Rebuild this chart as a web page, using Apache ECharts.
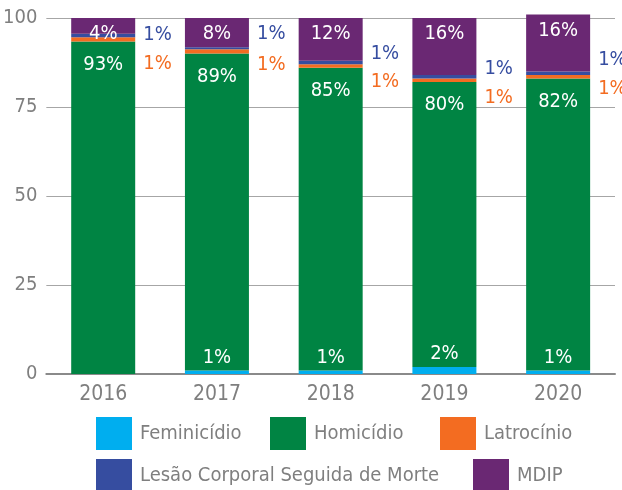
<!DOCTYPE html>
<html>
<head>
<meta charset="utf-8">
<script src="https://cdn.jsdelivr.net/npm/echarts@6/dist/echarts.min.js"></script>
<style>
  html, body { margin: 0; padding: 0; background: #fff; }
  #chart { width: 622px; height: 490px; }
</style>
</head>
<body>
<div id="chart"></div>
<script>
var years = ['2016', '2017', '2018', '2019', '2020'];
var feminicidio = [0, 1, 1, 2, 1];
var homicidio = [93.4, 89, 85, 80, 82];
var latrocinio = [1.2, 1.2, 1, 1, 1];
var lesao = [1, 0.6, 1, 1, 1];
var mdip = [4.4, 8.2, 12, 16, 16];
var yTicks = [0, 25, 50, 75, 100];

// vertical nudges for the labels placed beside the bars
var latrocinioLabelDy = [24, 13, 16, 17, 12];
var lesaoLabelDy = [-1, -14, -9, -8, -13];

var font = "'Liberation Sans Narrow', 'DejaVu Sans Condensed', sans-serif";
var gray = '#7f7f7f';

function pct(p) {
    return Math.round(p.value) + '%';
}

function withDy(values, dy) {
    return values.map(function (v, i) {
        return { value: v, label: { offset: [0, dy[i]] } };
    });
}

var chart = echarts.init(document.getElementById('chart'));

function legendAt(name, left, top) {
    return {
        data: [name],
        left: left,
        top: top,
        itemWidth: 36,
        itemHeight: 33,
        itemGap: 0,
        padding: 0,
        icon: 'rect',
        selectedMode: false,
        textStyle: { fontFamily: font, fontSize: 20, color: gray, padding: [0, 0, 0, 3] }
    };
}

var option = {
    animation: false,
    textStyle: { fontFamily: font },
    color: ['#00aeef', '#008443', '#f36c21', '#364da0', '#6a2873'],
    legend: [
        legendAt('Feminicídio', 96, 417),
        legendAt('Homicídio', 270, 417),
        legendAt('Latrocínio', 440, 417),
        legendAt('Lesão Corporal Seguida de Morte', 96, 459),
        legendAt('MDIP', 473, 459)
    ],
    grid: { left: 45, right: 7, top: 18, bottom: 116 },
    xAxis: {
        type: 'category',
        data: years,
        axisTick: { show: false },
        axisLine: { lineStyle: { color: '#8a8a8a', width: 2 } },
        axisLabel: { fontFamily: font, fontSize: 21, color: gray, margin: 10 }
    },
    yAxis: {
        type: 'value',
        min: 0,
        max: 100,
        interval: 25,
        axisLabel: {
            fontFamily: font, fontSize: 20, color: gray, margin: 9,
            formatter: function (v) { return yTicks.indexOf(v) >= 0 ? String(v) : ''; }
        },
        splitLine: { lineStyle: { color: '#a6a6a6', width: 1 } }
    },
    series: [
        {
            name: 'Feminicídio', type: 'bar', stack: 'a', barWidth: 64,
            data: feminicidio,
            label: {
                show: true, position: 'top', distance: 3,
                color: '#fff', fontSize: 20, fontFamily: font,
                formatter: function (p) { return p.value > 0 ? pct(p) : ''; }
            }
        },
        {
            name: 'Homicídio', type: 'bar', stack: 'a', barWidth: 64,
            data: homicidio,
            label: {
                show: true, position: 'insideTop', distance: 13,
                color: '#fff', fontSize: 20, fontFamily: font, formatter: pct
            }
        },
        {
            name: 'Latrocínio', type: 'bar', stack: 'a', barWidth: 64,
            data: withDy(latrocinio, latrocinioLabelDy),
            label: {
                show: true, position: 'right', distance: 8,
                color: '#f36c21', fontSize: 20, fontFamily: font, formatter: pct
            }
        },
        {
            name: 'Lesão Corporal Seguida de Morte', type: 'bar', stack: 'a', barWidth: 64,
            data: withDy(lesao, lesaoLabelDy),
            label: {
                show: true, position: 'right', distance: 8,
                color: '#364da0', fontSize: 20, fontFamily: font, formatter: pct
            }
        },
        {
            name: 'MDIP', type: 'bar', stack: 'a', barWidth: 64, clip: false,
            data: mdip,
            label: {
                show: true, position: 'insideTop', distance: 6,
                color: '#fff', fontSize: 20, fontFamily: font, formatter: pct
            }
        }
    ]
};

chart.setOption(option);
</script>
</body>
</html>
